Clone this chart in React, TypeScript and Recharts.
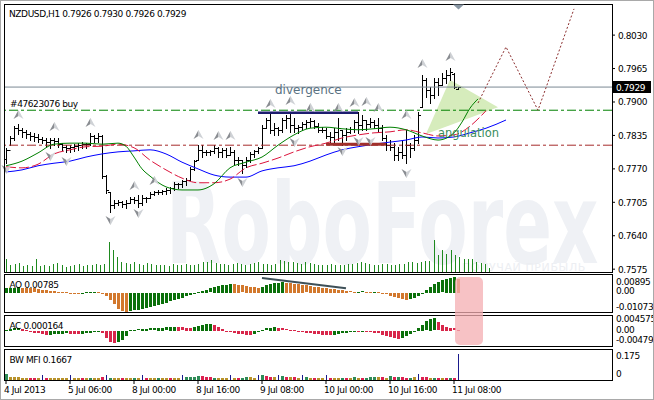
import React from 'react';
import { ComposedChart, Bar, Line, Area, XAxis, YAxis, ReferenceLine } from 'recharts';

const FONT = '"DejaVu Sans", Verdana, sans-serif';
const SLOTS = 152;

const symbolTitle = 'NZDUSD,H1';
const timeLabels = ['4 Jul 2013', '5 Jul 06:00', '8 Jul 00:00', '8 Jul 16:00', '9 Jul 08:00', '10 Jul 00:00', '10 Jul 16:00', '11 Jul 08:00'];
const timeIdx = [0, 16, 32, 48, 64, 80, 96, 112];
const priceTicks = [0.803, 0.7965, 0.79, 0.7835, 0.777, 0.7705, 0.764, 0.7575];

const opens = [0.7790, 0.7807, 0.7830, 0.7849, 0.7846, 0.7842, 0.7838, 0.7834, 0.7832, 0.7828,
  0.7826, 0.7822, 0.7826, 0.7824, 0.7818, 0.7813, 0.7811, 0.7813, 0.7814, 0.7816,
  0.7818, 0.7818, 0.7834, 0.7830, 0.7834, 0.7756, 0.7725, 0.7700, 0.7704, 0.7706,
  0.7702, 0.7704, 0.7711, 0.7709, 0.7704, 0.7713, 0.7713, 0.7721, 0.7725, 0.7725,
  0.7727, 0.7729, 0.7733, 0.7741, 0.7741, 0.7746, 0.7748, 0.7770, 0.7787, 0.7807,
  0.7803, 0.7803, 0.7805, 0.7811, 0.7803, 0.7807, 0.7797, 0.7803, 0.7787, 0.7787,
  0.7777, 0.7787, 0.7799, 0.7805, 0.7811, 0.7849, 0.7865, 0.7846, 0.7849, 0.7846,
  0.7865, 0.7869, 0.7855, 0.7849, 0.7851, 0.7857, 0.7861, 0.7863, 0.7853, 0.7846,
  0.7846, 0.7834, 0.7832, 0.7842, 0.7846, 0.7836, 0.7842, 0.7848, 0.7861, 0.7855,
  0.7865, 0.7857, 0.7861, 0.7855, 0.7849, 0.7830, 0.7816, 0.7813, 0.7797, 0.7803,
  0.7797, 0.7816, 0.7811, 0.7826, 0.7890, 0.7943, 0.7923, 0.7914, 0.7939, 0.7933,
  0.7947, 0.7952, 0.7955, 0.7926];
const highs = [0.7811, 0.7834, 0.7853, 0.7857, 0.7849, 0.7846, 0.7842, 0.7840, 0.7838, 0.7832,
  0.7830, 0.7830, 0.7830, 0.7830, 0.7820, 0.7816, 0.7816, 0.7818, 0.7820, 0.7822,
  0.7820, 0.7840, 0.7836, 0.7840, 0.7836, 0.7758, 0.7725, 0.7709, 0.7709, 0.7707,
  0.7709, 0.7715, 0.7715, 0.7719, 0.7719, 0.7715, 0.7725, 0.7727, 0.7729, 0.7729,
  0.7733, 0.7735, 0.7744, 0.7743, 0.7748, 0.7752, 0.7774, 0.7787, 0.7816, 0.7816,
  0.7807, 0.7807, 0.7816, 0.7813, 0.7811, 0.7811, 0.7813, 0.7807, 0.7793, 0.7787,
  0.7793, 0.7803, 0.7807, 0.7813, 0.7855, 0.7869, 0.7879, 0.7859, 0.7851, 0.7869,
  0.7875, 0.7881, 0.7869, 0.7855, 0.7861, 0.7865, 0.7869, 0.7865, 0.7859, 0.7851,
  0.7849, 0.7842, 0.7849, 0.7869, 0.7846, 0.7849, 0.7851, 0.7865, 0.7881, 0.7875,
  0.7865, 0.7869, 0.7865, 0.7869, 0.7855, 0.7836, 0.7826, 0.7820, 0.7813, 0.7826,
  0.7846, 0.7820, 0.7836, 0.7881, 0.7952, 0.7947, 0.7929, 0.7947, 0.7947, 0.7956,
  0.7962, 0.7966, 0.7956, 0.7930];
const lows = [0.7781, 0.7816, 0.7826, 0.7838, 0.7832, 0.7830, 0.7826, 0.7824, 0.7822, 0.7820,
  0.7813, 0.7811, 0.7816, 0.7813, 0.7807, 0.7803, 0.7803, 0.7805, 0.7807, 0.7811,
  0.7811, 0.7816, 0.7822, 0.7822, 0.7752, 0.7723, 0.7686, 0.7694, 0.7700, 0.7696,
  0.7694, 0.7704, 0.7704, 0.7696, 0.7700, 0.7706, 0.7713, 0.7719, 0.7721, 0.7721,
  0.7721, 0.7723, 0.7729, 0.7733, 0.7735, 0.7739, 0.7748, 0.7768, 0.7787, 0.7793,
  0.7797, 0.7797, 0.7801, 0.7793, 0.7793, 0.7793, 0.7797, 0.7779, 0.7777, 0.7762,
  0.7774, 0.7783, 0.7793, 0.7801, 0.7811, 0.7849, 0.7840, 0.7836, 0.7836, 0.7842,
  0.7849, 0.7842, 0.7842, 0.7840, 0.7846, 0.7849, 0.7851, 0.7849, 0.7842, 0.7842,
  0.7830, 0.7822, 0.7822, 0.7826, 0.7816, 0.7826, 0.7840, 0.7842, 0.7840, 0.7846,
  0.7846, 0.7851, 0.7849, 0.7842, 0.7826, 0.7807, 0.7807, 0.7787, 0.7787, 0.7791,
  0.7781, 0.7793, 0.7807, 0.7820, 0.7890, 0.7910, 0.7898, 0.7908, 0.7914, 0.7933,
  0.7937, 0.7943, 0.7927, 0.7926];
const closes = [0.7807, 0.7830, 0.7849, 0.7846, 0.7842, 0.7838, 0.7834, 0.7832, 0.7828, 0.7826,
  0.7822, 0.7826, 0.7824, 0.7818, 0.7813, 0.7811, 0.7813, 0.7814, 0.7816, 0.7818,
  0.7818, 0.7834, 0.7830, 0.7834, 0.7756, 0.7729, 0.7700, 0.7704, 0.7706, 0.7702,
  0.7704, 0.7711, 0.7709, 0.7704, 0.7713, 0.7713, 0.7721, 0.7725, 0.7725, 0.7727,
  0.7729, 0.7733, 0.7741, 0.7741, 0.7746, 0.7748, 0.7770, 0.7785, 0.7807, 0.7803,
  0.7803, 0.7805, 0.7811, 0.7803, 0.7807, 0.7797, 0.7803, 0.7787, 0.7787, 0.7777,
  0.7787, 0.7799, 0.7805, 0.7811, 0.7849, 0.7865, 0.7846, 0.7849, 0.7846, 0.7865,
  0.7869, 0.7855, 0.7849, 0.7851, 0.7857, 0.7861, 0.7863, 0.7853, 0.7846, 0.7846,
  0.7834, 0.7832, 0.7842, 0.7849, 0.7836, 0.7842, 0.7848, 0.7861, 0.7855, 0.7865,
  0.7857, 0.7861, 0.7855, 0.7849, 0.7830, 0.7816, 0.7813, 0.7797, 0.7803, 0.7797,
  0.7816, 0.7811, 0.7826, 0.7875, 0.7943, 0.7923, 0.7914, 0.7939, 0.7933, 0.7947,
  0.7952, 0.7958, 0.7929, 0.7929];
const volumes = [440, 230, 270, 300, 200, 240, 200, 420, 210, 230,
  200, 260, 300, 220, 180, 200, 240, 260, 200, 220,
  250, 280, 230, 260, 1010, 740, 500, 330, 300, 280,
  320, 260, 240, 300, 280, 220, 250, 230, 200, 260,
  220, 240, 270, 230, 250, 260, 330, 340, 400, 300,
  270, 260, 250, 280, 300, 260, 240, 280, 300, 330,
  280, 260, 240, 270, 400, 380, 350, 330, 300, 280,
  320, 300, 260, 240, 250, 230, 260, 240, 250, 220,
  280, 260, 300, 320, 300, 260, 240, 220, 260, 280,
  250, 230, 260, 280, 320, 350, 300, 330, 360, 380,
  1080, 570, 740, 600, 740, 570, 500, 440, 440, 440,
  340, 300, 280, 120];

// Alligator (sampled readings, [bar index, price])
const jaw: [number, number][] = [[0, 0.7764], [4, 0.7768], [8, 0.7776], [12, 0.7781], [16, 0.7785], [20, 0.7793], [24, 0.7799], [28, 0.7803], [32, 0.7805], [36, 0.7807], [40, 0.7799], [44, 0.7783], [48, 0.7770], [52, 0.7758], [56, 0.7754], [60, 0.7754], [64, 0.7766], [68, 0.7772], [72, 0.7776], [76, 0.7785], [80, 0.7797], [84, 0.7807], [88, 0.7813], [92, 0.7818], [96, 0.7822], [100, 0.7826], [104, 0.7832], [108, 0.7830], [112, 0.7832], [116, 0.7840], [120, 0.7849], [125, 0.7865]];
const teeth: [number, number][] = [[0, 0.7774], [4, 0.7772], [8, 0.7779], [12, 0.7799], [16, 0.7807], [20, 0.7813], [24, 0.7814], [28, 0.7818], [32, 0.7811], [36, 0.7787], [40, 0.7768], [44, 0.7752], [48, 0.7743], [52, 0.7743], [56, 0.7750], [60, 0.7772], [64, 0.7781], [68, 0.7791], [72, 0.7803], [76, 0.7813], [80, 0.7820], [84, 0.7830], [88, 0.7836], [92, 0.7840], [96, 0.7842], [100, 0.7846], [104, 0.7840], [108, 0.7834], [112, 0.7836], [116, 0.7853], [118, 0.7867], [120, 0.7883]];
const lips: [number, number][] = [[0, 0.7776], [4, 0.7785], [8, 0.7801], [12, 0.7818], [16, 0.7820], [20, 0.7820], [24, 0.7818], [28, 0.7820], [30, 0.7814], [32, 0.7793], [34, 0.7770], [36, 0.7756], [40, 0.7735], [44, 0.7729], [48, 0.7729], [52, 0.7741], [56, 0.7772], [60, 0.7783], [64, 0.7793], [68, 0.7816], [72, 0.7836], [76, 0.7849], [80, 0.7851], [84, 0.7848], [88, 0.7846], [92, 0.7848], [96, 0.7851], [100, 0.7846], [104, 0.7834], [108, 0.7826], [112, 0.7840], [114, 0.7861], [116, 0.7888], [118, 0.7906]];

const upFractals: [number, number][] = [[3, 0.7875], [12, 0.7851], [21, 0.7859], [32, 0.7737], [37, 0.7746], [48, 0.7836], [53, 0.7834], [56, 0.7834], [66, 0.7896], [71, 0.7902], [76, 0.7888], [83, 0.7888], [87, 0.7898], [90, 0.7900], [93, 0.7888], [100, 0.7875], [104, 0.7974], [111, 0.7987]];
const downFractals: [number, number][] = [[0, 0.7770], [11, 0.7795], [15, 0.7785], [26, 0.7671], [33, 0.7684], [59, 0.7744], [72, 0.7822], [84, 0.7805], [88, 0.7824], [91, 0.7824], [100, 0.7762]];

const projection: [number, number][] = [[118, 0.7898], [125, 0.8007], [133, 0.7884], [142, 0.8081]];
const angulation: [number, number, number][] = [[105, 0.7838, 0.7838], [111, 0.7855, 0.7943], [123, 0.7890, 0.7890]];
const buyLevel = 0.7884;
const stopLevel = 0.7816;
const divergenceLine = { from: 63, to: 88, price: 0.7879 };
const supportLine = { from: 80, to: 95, price: 0.7818 };

const ao = [0.0026, 0.0028, 0.0029, 0.0031, 0.0030, 0.0029, 0.0027, 0.0025, 0.0022, 0.0019,
  0.0016, 0.0013, 0.0010, 0.0007, 0.0005, 0.0003, 0.0002, 0.0001, 0.0000, 0.0002,
  0.0004, 0.0005, 0.0006, 0.0004, 0.0001, -0.0019, -0.0041, -0.0064, -0.0088, -0.0100,
  -0.0105, -0.0102, -0.0098, -0.0093, -0.0088, -0.0083, -0.0078, -0.0072, -0.0066, -0.0060,
  -0.0054, -0.0047, -0.0040, -0.0033, -0.0026, -0.0019, -0.0012, -0.0005, 0.0003, 0.0010,
  0.0018, 0.0025, 0.0032, 0.0038, 0.0043, 0.0047, 0.0050, 0.0048, 0.0045, 0.0042,
  0.0039, 0.0036, 0.0033, 0.0030, 0.0036, 0.0044, 0.0050, 0.0055, 0.0058, 0.0060,
  0.0057, 0.0054, 0.0051, 0.0048, 0.0045, 0.0042, 0.0039, 0.0036, 0.0033, 0.0030,
  0.0027, 0.0024, 0.0021, 0.0018, 0.0015, 0.0012, 0.0008, 0.0006, 0.0007, 0.0008,
  0.0006, 0.0005, 0.0006, 0.0003, -0.0003, -0.0008, -0.0015, -0.0022, -0.0029, -0.0035,
  -0.0040, -0.0036, -0.0027, -0.0015, 0.0002, 0.0018, 0.0034, 0.0048, 0.0060, 0.0070,
  0.0078, 0.0085, 0.00895, 0.00785];
const aoTrend = { from: 64, to: 85, v1: 0.0084, v2: 0.0026 };
const ac = [0.0004, 0.0006, 0.0008, 0.0009, 0.0006, 0.0003, -0.0002, -0.0006, -0.0009, -0.0012,
  -0.0014, -0.0013, -0.0012, -0.0011, -0.0010, -0.0009, -0.0010, -0.0011, -0.0012, -0.0010,
  -0.0008, -0.0006, -0.0004, -0.0002, -0.0008, -0.0024, -0.0038, -0.0045, -0.0041, -0.0032,
  -0.0018, 0.0002, 0.0004, 0.0005, 0.0006, 0.0007, 0.0008, 0.0009, 0.0010, 0.0011,
  0.0012, 0.0013, 0.0014, 0.0013, 0.0012, 0.0011, 0.0010, 0.0014, 0.0018, 0.0022,
  0.0024, 0.0025, 0.0022, 0.0015, 0.0007, -0.0001, -0.0005, -0.0008, -0.0010, -0.0012,
  -0.0013, -0.0014, -0.0010, -0.0005, 0.0002, 0.0008, 0.0011, 0.0013, 0.0011, 0.0008,
  0.0005, 0.0003, 0.0001, -0.0002, -0.0004, -0.0006, -0.0008, -0.0010, -0.0012, -0.0013,
  -0.0015, -0.0016, -0.0013, -0.0011, -0.0009, -0.0007, -0.0004, -0.0002, -0.0003, 0.0000,
  -0.0002, -0.0004, -0.0006, -0.0009, -0.0013, -0.0017, -0.0021, -0.0025, -0.0028, -0.0024,
  -0.0018, -0.0012, -0.0005, 0.0010, 0.0022, 0.0034, 0.0042, 0.0045, 0.0030, 0.0020,
  0.0014, 0.0011, 0.0008, 0.000164];
const mfi = [0.039, 0.020, 0.018, 0.018, 0.015, 0.014, 0.013, 0.015, 0.012, 0.030,
  0.013, 0.015, 0.014, 0.012, 0.013, 0.014, 0.030, 0.012, 0.013, 0.015,
  0.016, 0.014, 0.012, 0.013, 0.020, 0.030, 0.016, 0.014, 0.012, 0.013,
  0.015, 0.014, 0.016, 0.012, 0.030, 0.014, 0.012, 0.013, 0.015, 0.014,
  0.013, 0.012, 0.014, 0.016, 0.030, 0.017, 0.020, 0.022, 0.025, 0.024,
  0.020, 0.018, 0.016, 0.014, 0.013, 0.015, 0.030, 0.014, 0.012, 0.015,
  0.020, 0.018, 0.016, 0.035, 0.030, 0.025, 0.022, 0.020, 0.030, 0.025,
  0.020, 0.018, 0.017, 0.016, 0.030, 0.018, 0.016, 0.014, 0.016, 0.015,
  0.030, 0.014, 0.013, 0.015, 0.014, 0.012, 0.013, 0.020, 0.015, 0.014,
  0.016, 0.020, 0.022, 0.020, 0.018, 0.016, 0.024, 0.022, 0.020, 0.018,
  0.015, 0.016, 0.018, 0.040, 0.020, 0.018, 0.016, 0.015, 0.014, 0.013,
  0.012, 0.014, 0.015, 0.1667];
const mfiKind = 'gyyyyyrryb' + 'ryyyyybyyr' + 'ygyyrbgyyr' + 'yygybryygy' + 'yryybggggr' + 'rrgyyybyrg' + 'gyybgrrybg' + 'ryrybgyryy' + 'bryygrygyr' + 'gggyrygrgr' + 'rgybrrygry' + 'rgrb';

const aoTicks = [0.00895, 0, -0.01073];
const aoTickText = ['0.00895', '0.00', '-0.01073'];
const acTicks = [0.004575, 0, -0.00479];
const acTickText = ['0.004575', '0.00', '-0.00479'];
const mfiTicks = [0.175, 0];
const mfiTickText = ['0.175', '0'];

const rows: any[] = [];
for (let i = 0; i < SLOTS; i++) {
  const r: any = { i };
  if (i < highs.length) {
    r.o = opens[i]; r.h = highs[i]; r.l = lows[i]; r.c = closes[i];
    r.hl = [lows[i], highs[i]];
    r.vol = volumes[i];
    r.ao = ao[i]; r.aoUp = i === 0 || ao[i] >= ao[i - 1];
    r.ac = ac[i]; r.acUp = i === 0 || ac[i] >= ac[i - 1];
    r.mfi = mfi[i]; r.mfiKind = mfiKind[i];
  }
  rows.push(r);
}
const put = (pts: [number, number][], key: string) => pts.forEach(([i, v]) => { rows[i][key] = v; });
put(jaw, 'jaw'); put(teeth, 'teeth'); put(lips, 'lips');
put(upFractals, 'fu'); put(downFractals, 'fd'); put(projection, 'proj');
angulation.forEach(([i, lo, hi]) => { rows[i].tri = [lo, hi]; });

const txt = { fontFamily: FONT, fontSize: 9, letterSpacing: -0.4 } as const;

const OhlcShape = (p: any) => {
  const { x, y, width, height, payload } = p;
  if (!payload || payload.h == null || !isFinite(y)) return <g />;
  const top = Math.min(y, y + height);
  const h = Math.abs(height);
  const cx = Math.round(x + width / 2) + 0.5;
  const span = payload.h - payload.l;
  const yo = span > 0 ? top + ((payload.h - payload.o) / span) * h : top;
  const yc = span > 0 ? top + ((payload.h - payload.c) / span) * h : top;
  const ry = (v: number) => Math.round(v) + 0.5;
  return (
    <g stroke="#000" strokeWidth={1}>
      <line x1={cx} x2={cx} y1={Math.round(top)} y2={Math.round(top + h) + 1} />
      <line x1={cx - 2.5} x2={cx} y1={ry(yo)} y2={ry(yo)} />
      <line x1={cx} x2={cx + 2.5} y1={ry(yc)} y2={ry(yc)} />
    </g>
  );
};

const VolShape = (p: any) => {
  const { x, y, width, height } = p;
  if (!isFinite(y) || !height) return <g />;
  const cx = Math.round(x + width / 2) + 0.5;
  return <line x1={cx} x2={cx} y1={Math.round(y)} y2={Math.round(y + height)} stroke="#1f8a1f" strokeWidth={1} />;
};

const makeHist = (upKey: string, upColor: string, downColor: string) => (p: any) => {
  const { x, y, width, height, payload } = p;
  if (!payload || !isFinite(y)) return <g />;
  const top = Math.min(y, y + height);
  const h = Math.max(Math.abs(height), 1);
  const cx = Math.round(x + width / 2);
  return <rect x={cx - 1} y={Math.round(top)} width={3} height={Math.round(h)} fill={payload[upKey] ? upColor : downColor} />;
};
const AoShape = makeHist('aoUp', '#0a700a', '#d2782d');
const AcShape = makeHist('acUp', '#0a700a', '#d8264a');

const mfiColors: Record<string, string> = { g: '#2e8b57', y: '#b8922a', r: '#dc2050', b: '#1a1a8c' };
const MfiShape = (p: any) => {
  const { x, y, width, height, payload } = p;
  if (!payload || !isFinite(y)) return <g />;
  const cx = Math.round(x + width / 2);
  const top = Math.round(Math.min(y, y + height));
  const h = Math.max(Math.round(Math.abs(height)), 1);
  if (payload.mfiKind === 'b') return <rect x={cx} y={top} width={1} height={h} fill={mfiColors.b} />;
  return <rect x={cx - 1} y={top} width={3} height={h} fill={mfiColors[payload.mfiKind]} />;
};

const arrowDot = (dir: 'up' | 'down') => (p: any) => {
  const { cx, cy, value, index } = p;
  const key = `${dir}${index}`;
  if (value == null || cy == null || !isFinite(cy)) return <g key={key} />;
  const x = Math.round(cx) + 0.5;
  const y = Math.round(cy);
  const s = dir === 'up' ? 1 : -1;
  return (
    <g key={key}>
      <polygon points={`${x},${y - 5 * s} ${x - 5},${y + 4 * s} ${x},${y + 1 * s}`} fill="#8a8d92" />
      <polygon points={`${x},${y - 5 * s} ${x + 5},${y + 4 * s} ${x},${y + 1 * s}`} fill="#cfd2d6" />
    </g>
  );
};
const upDot = arrowDot('up');
const downDot = arrowDot('down');

const PriceTick = (p: any) => (
  <text x={p.x + 1} y={p.y + 3.5} {...txt} fill="#000">{Number(p.payload.value).toFixed(4)}</text>
);
const makeSubTick = (ticks: number[], labels: string[], dys: number[]) => (p: any) => {
  const k = ticks.indexOf(p.payload.value);
  return <text x={p.x + 1} y={p.y + dys[k]} {...txt} fill="#000">{labels[k]}</text>;
};
const AoTick = makeSubTick(aoTicks, aoTickText, [7.5, 1, -2]);
const AcTick = makeSubTick(acTicks, acTickText, [3.5, 2, -1]);
const MfiTick = makeSubTick(mfiTicks, mfiTickText, [6, -3.5]);
const TimeTick = (p: any) => {
  const k = timeIdx.indexOf(p.payload.value);
  return <text x={p.x - 2} y={p.y + 7} {...txt} fill="#000">{timeLabels[k]}</text>;
};

const CurLabel = (p: any) => {
  const vb = p.viewBox || {};
  const xx = (vb.x || 0) + (vb.width || 0);
  const yy = vb.y || 0;
  return (
    <g>
      <rect x={xx + 1} y={Math.round(yy) - 6} width={38} height={12} fill="#000" />
      <text x={xx + 4} y={yy + 3.5} {...txt} fill="#fff">{closes[closes.length - 1].toFixed(4)}</text>
    </g>
  );
};
const BuyLabel = (p: any) => {
  const vb = p.viewBox || {};
  return <text x={(vb.x || 0) + 6} y={(vb.y || 0) - 3} {...txt} fill="#000">#47623076 buy</text>;
};

const W = 654;
const MAIN_DOMAIN: [number, number] = [0.75695, 0.80905];
const M = { right: 0, left: 4 };

const abs = (l: number, t: number, z: number): React.CSSProperties => ({ position: 'absolute', left: l, top: t, zIndex: z });
const frame = (t: number, h: number): React.CSSProperties => ({
  position: 'absolute', left: 4, top: t, width: 609, height: h, border: '1px solid #000', boxSizing: 'border-box', zIndex: 5, pointerEvents: 'none',
});

export default function App() {
  return (
    <div style={{ position: 'absolute', left: 0, top: 0, width: W, height: 400, background: '#fff', overflow: 'hidden' }}>
      {/* watermark */}
      <svg width={W} height={272} style={abs(0, 0, 0)}>
        <g transform="translate(166,263) scale(1,1.55)">
          <text x={0} y={0} fontFamily={FONT} fontWeight={700} fontSize={72} fill="#eff1f5">RoboForex</text>
        </g>
        <text x={462} y={271} fontFamily={FONT} fontSize={11} fill="#eceef2" letterSpacing={0.6}>ПОЛУЧАЙ ПРИБЫЛЬ</text>
      </svg>

      {/* volumes */}
      <div style={abs(0, 0, 1)}>
        <ComposedChart width={W} height={272} data={rows} margin={{ ...M, top: 4, bottom: 0 }} barCategoryGap={0}>
          <XAxis dataKey="i" hide />
          <YAxis orientation="right" width={42} domain={[0, 9000]} hide allowDataOverflow />
          <Bar dataKey="vol" shape={VolShape} isAnimationActive={false} />
        </ComposedChart>
      </div>

      {/* main price chart (plot area y 4..272; extra 4px below so the lowest price label is not clipped) */}
      <div style={abs(0, 0, 2)}>
        <ComposedChart width={W} height={276} data={rows} margin={{ ...M, top: 4, bottom: 4 }} barCategoryGap={0}>
          <XAxis dataKey="i" hide />
          <YAxis orientation="right" width={42} domain={MAIN_DOMAIN} allowDataOverflow ticks={priceTicks} interval={0}
            tick={PriceTick} tickSize={3} tickMargin={2} tickLine={{ stroke: '#000' }} axisLine={false} />
          <Area dataKey="tri" type="linear" fill="#d6ecbc" fillOpacity={1} stroke="none" connectNulls isAnimationActive={false} />
          <ReferenceLine y={closes[closes.length - 1]} stroke="#7a8894" strokeWidth={1} label={<CurLabel />} />
          <ReferenceLine y={buyLevel} stroke="#008000" strokeDasharray="9 3 3 3" label={<BuyLabel />} />
          <ReferenceLine y={stopLevel} stroke="#a52a2a" strokeDasharray="9 3 3 3" />
          <Line dataKey="jaw" type="monotone" stroke="#0000ff" strokeWidth={1} dot={false} connectNulls isAnimationActive={false} />
          <Line dataKey="teeth" type="monotone" stroke="#dc143c" strokeWidth={1} strokeDasharray="10 3" dot={false} connectNulls isAnimationActive={false} />
          <Line dataKey="lips" type="monotone" stroke="#008000" strokeWidth={1} dot={false} connectNulls isAnimationActive={false} />
          <Bar dataKey="hl" shape={OhlcShape} isAnimationActive={false} />
          <ReferenceLine segment={[{ x: divergenceLine.from, y: divergenceLine.price }, { x: divergenceLine.to, y: divergenceLine.price }]} stroke="#1c1c6e" strokeWidth={2.5} />
          <ReferenceLine segment={[{ x: supportLine.from, y: supportLine.price }, { x: supportLine.to, y: supportLine.price }]} stroke="#a0302c" strokeWidth={3} />
          <Line dataKey="proj" type="linear" stroke="#8b2e2e" strokeWidth={1} strokeDasharray="2 2" dot={false} connectNulls isAnimationActive={false} />
          <Line dataKey="fu" stroke="none" dot={upDot} activeDot={false} isAnimationActive={false} />
          <Line dataKey="fd" stroke="none" dot={downDot} activeDot={false} isAnimationActive={false} />
        </ComposedChart>
      </div>

      {/* AO */}
      <div style={abs(0, 274, 2)}>
        <ComposedChart width={W} height={39} data={rows} margin={{ ...M, top: 3, bottom: 1 }} barCategoryGap={0}>
          <XAxis dataKey="i" hide />
          <YAxis orientation="right" width={42} domain={[-0.01073, 0.00895]} allowDataOverflow ticks={aoTicks} interval={0}
            tick={AoTick} tickSize={0} tickMargin={3} tickLine={false} axisLine={false} />
          <Bar dataKey="ao" shape={AoShape} isAnimationActive={false} />
          <ReferenceLine segment={[{ x: aoTrend.from, y: aoTrend.v1 }, { x: aoTrend.to, y: aoTrend.v2 }]} stroke="#3e5058" strokeWidth={2} />
        </ComposedChart>
      </div>

      {/* AC */}
      <div style={abs(0, 315, 2)}>
        <ComposedChart width={W} height={32} data={rows} margin={{ ...M, top: 3, bottom: 3 }} barCategoryGap={0}>
          <XAxis dataKey="i" hide />
          <YAxis orientation="right" width={42} domain={[-0.00479, 0.004575]} allowDataOverflow ticks={acTicks} interval={0}
            tick={AcTick} tickSize={0} tickMargin={3} tickLine={false} axisLine={false} />
          <Bar dataKey="ac" shape={AcShape} isAnimationActive={false} />
        </ComposedChart>
      </div>

      {/* BW MFI + time axis */}
      <div style={abs(0, 349, 2)}>
        <ComposedChart width={W} height={51} data={rows} margin={{ ...M, top: 4, bottom: 0 }} barCategoryGap={0}>
          <XAxis dataKey="i" ticks={timeIdx} interval={0} tick={TimeTick} tickSize={4} tickMargin={2} tickLine={{ stroke: '#000' }} axisLine={false} height={20} />
          <YAxis orientation="right" width={42} domain={[0, 0.175]} allowDataOverflow ticks={mfiTicks} interval={0}
            tick={MfiTick} tickSize={0} tickMargin={3} tickLine={false} axisLine={false} />
          <Bar dataKey="mfi" shape={MfiShape} isAnimationActive={false} />
        </ComposedChart>
      </div>

      {/* frames */}
      <div style={frame(4, 269)} />
      <div style={frame(274, 39)} />
      <div style={frame(315, 32)} />
      <div style={frame(349, 32)} />

      {/* annotations and captions */}
      <svg width={W} height={400} style={{ ...abs(0, 0, 6), pointerEvents: 'none' }}>
        <text x={9} y={16.5} {...txt} fill="#000">{`${symbolTitle}  ${opens[113].toFixed(4)} ${highs[113].toFixed(4)} ${lows[113].toFixed(4)} ${closes[113].toFixed(4)}`}</text>
        <text x={275} y={94} fontFamily={FONT} fontSize={12} fill="#5a7282">divergence</text>
        <text x={438} y={137} fontFamily={FONT} fontSize={12} fill="#3a8c5c" textLength={61} lengthAdjust="spacingAndGlyphs">angulation</text>
        <text x={9.5} y={287.5} {...txt} fill="#000">AO 0.00785</text>
        <text x={9.5} y={329} {...txt} fill="#000">AC 0.000164</text>
        <text x={9.5} y={363} {...txt} fill="#000">BW MFI 0.1667</text>
        <polygon points="453,4.5 464,4.5 458.5,9.5" fill="#8896a3" />
        <rect x={455} y={277} width={28} height={68} rx={5} fill="#f4aeb2" fillOpacity={0.75} />
        <rect x={0.5} y={0.5} width={W - 1} height={399} fill="none" stroke="#a9a9a9" />
      </svg>
    </div>
  );
}
